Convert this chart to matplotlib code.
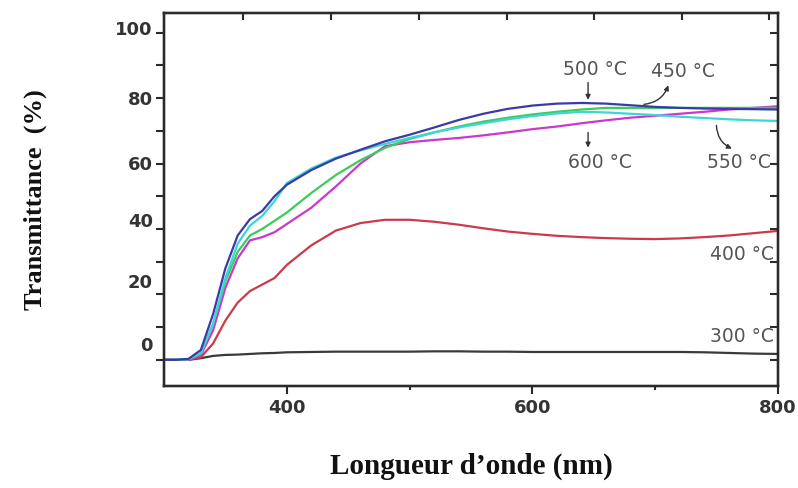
import matplotlib
matplotlib.use("Agg")
import matplotlib.pyplot as plt
from matplotlib.transforms import blended_transform_factory

# ---- data ----
wavelength = [300, 310, 320, 330, 340, 350, 360, 370, 380, 390, 400, 420, 440, 460, 480,
              500, 520, 540, 560, 580, 600, 620, 640, 660, 680, 700, 720, 740, 760, 780, 800]
t300 = [0, 0, 0, 0.5, 1.2, 1.5, 1.6, 1.8, 2.0, 2.1, 2.3, 2.4, 2.5, 2.5, 2.5,
        2.5, 2.6, 2.6, 2.5, 2.5, 2.4, 2.4, 2.4, 2.4, 2.4, 2.4, 2.4, 2.3, 2.1, 1.9, 1.8]
t400 = [0, 0, 0, 0.8, 5, 12, 17.5, 21, 23, 25, 29, 35, 39.5, 41.8, 42.8,
        42.8, 42.2, 41.3, 40.2, 39.2, 38.5, 37.9, 37.5, 37.2, 37.0, 36.9, 37.1, 37.5, 38.0, 38.7, 39.4]
t450 = [0, 0, 0.2, 2, 11, 24, 33, 38, 40, 42.5, 45, 51, 56.5, 61, 64.8,
        67.5, 69.5, 71.3, 72.8, 74, 75, 75.8, 76.5, 77, 77, 77, 77, 77, 77, 77, 77]
t500 = [0, 0, 0.3, 3, 14, 28, 38, 43, 45.5, 50, 53.5, 58, 61.5, 64.2, 66.8,
        68.8, 71, 73.3, 75.2, 76.7, 77.7, 78.3, 78.5, 78.3, 77.8, 77.3, 77.0, 76.8, 76.7, 76.6, 76.5]
t550 = [0, 0, 0.2, 2, 11, 25, 35.5, 41, 44, 48.5, 54, 58.5, 61.8, 64, 66,
        67.8, 69.5, 71, 72.3, 73.5, 74.5, 75.3, 75.8, 75.6, 75.2, 74.8, 74.3, 73.9, 73.5, 73.2, 73.0]
t600 = [0, 0, 0, 1.5, 9, 22, 31, 36.5, 37.5, 39, 41.5, 46.5, 53, 60, 65.3,
        66.5, 67.2, 67.8, 68.6, 69.5, 70.5, 71.3, 72.3, 73.2, 74, 74.6, 75.2, 75.8, 76.5, 77, 77.5]

x_ticks = [400, 600, 800]
x_minor = [500, 700]
y_ticks = [0, 20, 40, 60, 80, 100]
y_tick_labels = ["0", "20", "40", "60", "80", "100"]
y_label_pos = [4.3, 23.5, 42.2, 59.6, 79.5, 100.9]
top_ticks = [364.5, 436.3, 507.3, 579.2, 650.2, 722, 793]

series = [
    (t300, "#3a3a3a"),
    (t400, "#cc3a4a"),
    (t600, "#cc38cc"),
    (t450, "#3ccc5a"),
    (t550, "#3cd6d6"),
    (t500, "#3a3aa8"),
]

fig = plt.figure(figsize=(7.98, 4.88), dpi=100)
ax = fig.add_axes([0.2055, 0.209, 0.7695, 0.7644])

for vals, col in series:
    ax.plot(wavelength, vals, color=col, lw=1.6, solid_joinstyle="round")

ax.set_xlim(300, 800)
ax.set_ylim(-8, 106)

for s in ax.spines.values():
    s.set_linewidth(1.6)
    s.set_color("#2a2a2a")

ax.set_xticks(x_ticks)
ax.set_xticks(x_minor, minor=True)
ax.set_xticklabels([str(v) for v in x_ticks], fontsize=13, fontweight="bold",
                   color="#333333", family="DejaVu Sans")
ax.tick_params(axis="x", which="major", direction="out", length=6, width=1.5,
               pad=3, colors="#2a2a2a", labelcolor="#333333")
ax.tick_params(axis="x", which="minor", direction="out", length=3, width=1.5,
               colors="#2a2a2a")

ax.set_yticks(range(0, 101, 10))
ax.set_yticklabels([])
ax.tick_params(axis="y", which="major", direction="out", length=6, width=1.5,
               colors="#2a2a2a")
trans = blended_transform_factory(ax.transAxes, ax.transData)
for lab, pos in zip(y_tick_labels, y_label_pos):
    ax.text(-0.018, pos, lab, transform=trans, ha="right", va="center",
            fontsize=13, fontweight="bold", color="#333333", family="DejaVu Sans")

# right spine ticks inward
axr = ax.twinx()
axr.set_ylim(ax.get_ylim())
axr.set_yticks(range(0, 101, 10))
axr.set_yticklabels([])
axr.tick_params(axis="y", direction="in", length=6, width=1.5, colors="#2a2a2a")

# top spine ticks inward
axt = ax.twiny()
axt.set_xlim(ax.get_xlim())
axt.set_xticks(top_ticks)
axt.set_xticklabels([])
axt.tick_params(axis="x", direction="in", length=5, width=1.5, colors="#2a2a2a")
for a in (axr, axt):
    for s in a.spines.values():
        s.set_linewidth(1.6)
        s.set_color("#2a2a2a")

ax.set_xlabel("Longueur d\u2019onde (nm)", fontsize=21, fontweight="bold",
              family="Liberation Serif", labelpad=26, color="#111111")
ax.set_ylabel("Transmittance  (%)", fontsize=19, fontweight="bold",
              family="Liberation Serif", labelpad=75, color="#111111")

# annotations
tkw = dict(fontsize=13.5, color="#555555", ha="center", va="center", family="DejaVu Sans")
ax.text(651, 88.7, "500 \u00b0C", **tkw)
ax.text(723, 88.0, "450 \u00b0C", **tkw)
ax.text(655, 60.2, "600 \u00b0C", **tkw)
ax.text(768, 60.2, "550 \u00b0C", **tkw)
ax.text(771, 32.1, "400 \u00b0C", **tkw)
ax.text(771, 7.0, "300 \u00b0C", **tkw)

akw = dict(arrowstyle="-|>", color="#333333", lw=1.0, mutation_scale=7)
ax.annotate("", xy=(645.3, 78.6), xytext=(645.3, 85.6), arrowprops=akw)
ax.annotate("", xy=(645.3, 64.0), xytext=(645.3, 70.3), arrowprops=akw)
ax.annotate("", xy=(711.4, 84.7), xytext=(688.6, 78.0),
            arrowprops=dict(akw, connectionstyle="arc3,rad=0.35"))
ax.annotate("", xy=(764.5, 64.2), xytext=(749.8, 72.5),
            arrowprops=dict(akw, connectionstyle="arc3,rad=0.35"))

fig.savefig("out.png", dpi=100, facecolor="white")
